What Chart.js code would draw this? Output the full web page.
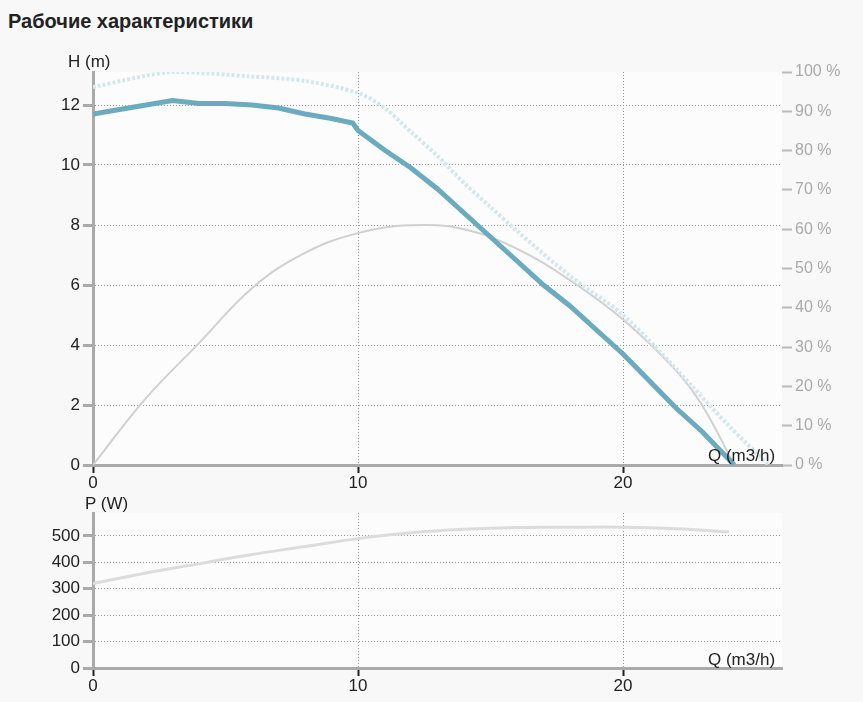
<!DOCTYPE html>
<html><head><meta charset="utf-8">
<script src="https://cdn.jsdelivr.net/npm/chart.js@4"></script>
<style>
body{margin:0;background:#f8f8f8;font-family:Arial,"Liberation Sans",sans-serif;width:863px;height:702px;position:relative;overflow:hidden}
h1{position:absolute;left:8px;top:10px;margin:0;font-size:20px;font-weight:bold;color:#222}
.lbl{position:absolute;font-size:17px;color:#222}
.box{position:absolute;left:0;width:863px}
</style></head><body>
<h1>Рабочие характеристики</h1>
<div class="box" style="top:52px;height:440px"><canvas id="top"></canvas></div>
<div class="box" style="top:495px;height:197px"><canvas id="bot"></canvas></div>
<div class="lbl" style="left:68px;top:52px">H (m)</div>
<div class="lbl" style="left:708px;top:446px">Q (m3/h)</div>
<div class="lbl" style="left:85px;top:494px">P (W)</div>
<div class="lbl" style="left:708px;top:650px">Q (m3/h)</div>
<script>
// Courbe H (m)
const headQ = [0,1,2,3,4,5,6,7,8,9,9.8,10,11,12,13,14,15,16,17,18,19,20,21,22,23,24.2];
const headH = [11.7,11.85,12.0,12.15,12.05,12.05,12.0,11.9,11.7,11.55,11.4,11.15,10.5,9.9,9.2,8.4,7.6,6.8,6.0,5.3,4.5,3.7,2.8,1.9,1.1,0];
// Courbe pointillée (H max)
const maxQ = [0,3,6,8,10,11,12,13,14,15,16,18,20,22,24,25.5];
const maxH = [12.6,13.1,12.95,12.8,12.4,11.9,11.1,10.3,9.4,8.6,7.8,6.3,5.0,3.2,1.3,0];
// Rendement (%)
const effQ = [0,2,4,6,8,10,12,14,16,18,20,22,23,24.2];
const effPct = [0,17,31,45,54,59,61,60,55,47,37,24,15,0];
// Puissance (W)
const powQ = [0,2,4,6,8,10,12,14,16,18,20,22,24];
const powW = [320,360,395,430,460,490,512,525,532,533,533,527,515];

const pts = (xs, ys) => xs.map((x, i) => ({x, y: ys[i]}));
const grid = {color:'#999', tickColor:'#aaa', tickLength:10, tickWidth:3};
const tickFont = {family:'Arial', size:17};

// fond de la zone de tracé
const plotBg = {
    id:'plotBg',
    beforeDraw(chart) {
        const {ctx, chartArea:a} = chart;
        ctx.save();
        ctx.fillStyle = '#fcfcfc';
        ctx.fillRect(a.left, a.top, a.right - a.left, a.bottom - a.top);
        ctx.restore();
    }
};

function xAxis(h) {
    return {
        type:'linear', min:0, max:26,
        afterBuildTicks: a => { a.ticks = [0,10,20].map(v => ({value:v})); },
        ticks:{color:'#222', font:tickFont, padding:0},
        grid:{color:'#999', tickColor:'#222', tickLength:8, tickWidth:2},
        border:{color:'#aaa', width:3, dash:[1,2]},
        afterFit: s => { s.height = h; }
    };
}

new Chart(document.getElementById('top'), {
    type:'line',
    data:{datasets:[
        {data:pts(headQ, headH), borderColor:'#6aabbf', borderWidth:5, pointRadius:0, yAxisID:'y'},
        {data:pts(maxQ, maxH), borderColor:'#d3e8ee', borderWidth:4, borderDash:[3,2], pointRadius:0, tension:0.3, yAxisID:'y'},
        {data:pts(effQ, effPct), borderColor:'#d0d0d0', borderWidth:2, pointRadius:0, tension:0.4, yAxisID:'y1'}
    ]},
    options:{
        responsive:true, maintainAspectRatio:false, animation:false,
        layout:{padding:{top:20}},
        plugins:{legend:{display:false}, tooltip:{enabled:false}},
        scales:{
            x: xAxis(27),
            y:{min:0, max:13.1, afterBuildTicks: a => { a.ticks = [0,2,4,6,8,10,12].map(v => ({value:v})); },
               ticks:{color:'#222', font:tickFont}, grid:grid, border:{color:'#aaa', width:3, dash:[1,2]},
               afterFit: s => { s.width = 93; }},
            y1:{position:'right', min:0, max:100, afterBuildTicks: a => { a.ticks = [0,10,20,30,40,50,60,70,80,90,100].map(v => ({value:v})); },
                ticks:{color:'#aaa', font:{family:'Arial', size:16}, callback: v => v + ' %'},
                grid:{drawOnChartArea:false, color:'#bbb', tickLength:10, tickWidth:2},
                border:{display:false},
                afterFit: s => { s.width = 81; }}
        }
    },
    plugins:[plotBg]
});

new Chart(document.getElementById('bot'), {
    type:'line',
    data:{datasets:[
        {data:pts(powQ, powW), borderColor:'#dcdcdc', borderWidth:3, pointRadius:0, tension:0.4}
    ]},
    options:{
        responsive:true, maintainAspectRatio:false, animation:false,
        layout:{padding:{top:18, right:81}},
        plugins:{legend:{display:false}, tooltip:{enabled:false}},
        scales:{
            x: xAxis(24),
            y:{min:0, max:587, afterBuildTicks: a => { a.ticks = [0,100,200,300,400,500].map(v => ({value:v})); },
               ticks:{color:'#222', font:tickFont}, grid:grid, border:{color:'#aaa', width:3, dash:[1,2]},
               afterFit: s => { s.width = 93; }}
        }
    },
    plugins:[plotBg]
});
</script>
</body></html>
